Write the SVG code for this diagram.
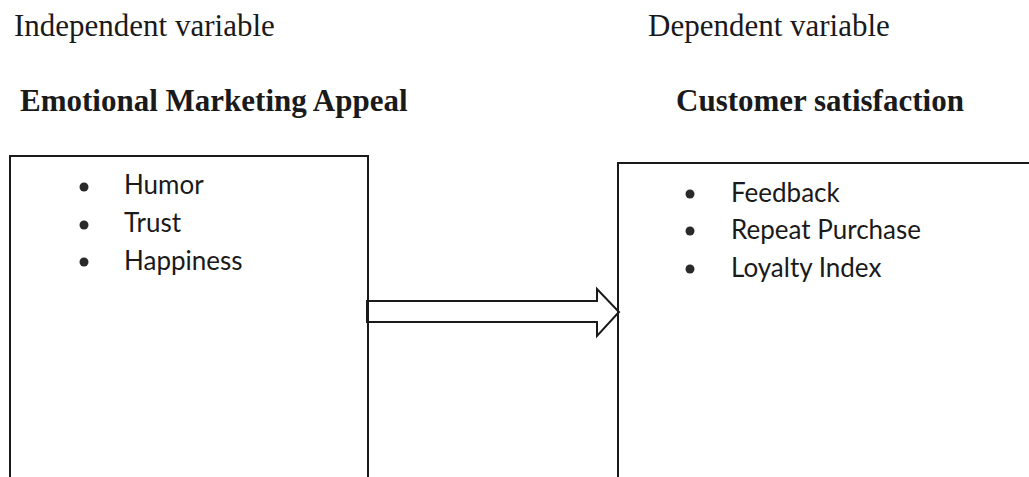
<svg xmlns="http://www.w3.org/2000/svg" width="1029" height="477" viewBox="0 0 1029 477">
<style>
.lbl{font-family:"Liberation Serif","Times New Roman",serif;font-size:31px;fill:#1a1a1a}
.ttl{font-family:"Liberation Serif","Times New Roman",serif;font-size:31px;font-weight:bold;fill:#1a1a1a}
.item{font-family:Lato,"Open Sans",sans-serif;font-size:26px;fill:#1a1a1a}
.box{fill:none;stroke:#1a1a1a;stroke-width:2}
.dot{fill:#2a2a2a}
</style>
<rect width="1029" height="477" fill="#fff"/>
<text class="lbl" x="14" y="36">Independent variable</text>
<text class="lbl" x="648" y="36">Dependent variable</text>
<text class="ttl" x="20" y="111">Emotional Marketing Appeal</text>
<text class="ttl" x="676" y="111">Customer satisfaction</text>
<g id="node-independent">
<path class="box" d="M10,480 V156 H368 V480"/>
<circle class="dot" cx="84" cy="187" r="4.5"/>
<circle class="dot" cx="84" cy="225" r="4.5"/>
<circle class="dot" cx="84" cy="262" r="4.5"/>
<text class="item" x="124" y="194">Humor</text>
<text class="item" x="124" y="232">Trust</text>
<text class="item" x="124" y="270">Happiness</text>
</g>
<g id="node-dependent">
<path class="box" d="M618,480 V163 H1035"/>
<circle class="dot" cx="690" cy="194" r="4.5"/>
<circle class="dot" cx="690" cy="231" r="4.5"/>
<circle class="dot" cx="690" cy="269" r="4.5"/>
<text class="item" x="731" y="202">Feedback</text>
<text class="item" x="731" y="239">Repeat Purchase</text>
<text class="item" x="731" y="277">Loyalty Index</text>
</g>
<g id="connectors">
<path class="box" d="M367,301 H597 V289 L619,312 L597,336 V322 H367 Z"/>
</g>
</svg>
